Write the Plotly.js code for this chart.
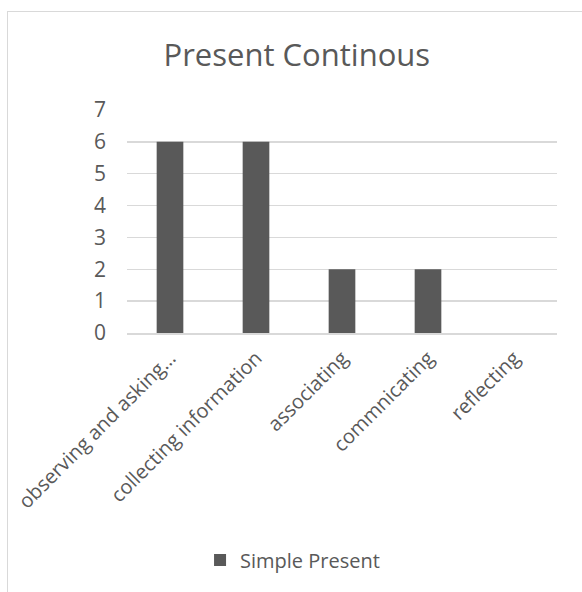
<!DOCTYPE html>
<html>
<head>
<meta charset="utf-8">
<script src="https://cdn.plot.ly/plotly-3.0.1.min.js"></script>
<style>
  html, body { margin: 0; padding: 0; background: #fff; }
  #wrap { position: relative; width: 582px; height: 592px; overflow: hidden; }
  #chart { position: absolute; left: 0; top: 0; width: 582px; height: 592px; }
  #frame { position: absolute; left: 7px; top: 11px; width: 640px; height: 640px;
           border-left: 1.5px solid #d9d9d9; border-top: 1.5px solid #d9d9d9; pointer-events: none; }
</style>
</head>
<body>
<div id="wrap">
  <div id="chart"></div>
  <div id="frame"></div>
</div>
<script>
const chartTitle = "Present Continous";
const categories = ["observing and asking…", "collecting information", "associating", "commnicating", "reflecting"];
const seriesName = "Simple Present";
const values = [6, 6, 2, 2, 0];
const yTicks = [0, 1, 2, 3, 4, 5, 6, 7];

const fontFam = "'Open Sans', 'Noto Sans', sans-serif";
const textColor = "#595959";

const trace = {
  type: "bar",
  x: categories,
  y: values,
  name: seriesName,
  marker: { color: "#595959" },
  showlegend: true,
  hoverinfo: "x+y"
};

const layout = {
  width: 582,
  height: 592,
  margin: { l: 127, r: 25, t: 110, b: 259 },
  paper_bgcolor: "#ffffff",
  plot_bgcolor: "#ffffff",
  font: { family: fontFam, color: textColor, size: 20 },
  title: {
    text: chartTitle,
    font: { family: fontFam, size: 31, color: textColor },
    xref: "container", x: 0.51, xanchor: "center",
    yref: "container", y: 0.907, yanchor: "middle"
  },
  bargap: 0.69,
  xaxis: {
    type: "category",
    tickangle: -45,
    showgrid: false,
    showline: true,
    linecolor: "#d9d9d9",
    linewidth: 1.5,
    ticks: "",
    tickfont: { family: fontFam, size: 20, color: textColor },
    ticklabelstandoff: 4,
    fixedrange: true
  },
  yaxis: {
    range: [0, 7],
    tickvals: yTicks,
    showgrid: true,
    gridcolor: "#d9d9d9",
    gridwidth: 1.5,
    zeroline: false,
    showline: false,
    ticks: "",
    tickfont: { family: fontFam, size: 21, color: textColor },
    ticklabelstandoff: 20,
    fixedrange: true
  },
  showlegend: true,
  legend: {
    orientation: "h",
    xref: "paper", x: 0.385, xanchor: "center",
    yref: "paper", y: -1.018, yanchor: "middle",
    font: { family: fontFam, size: 20, color: textColor },
    bgcolor: "rgba(0,0,0,0)"
  }
};

Plotly.newPlot("chart", [trace], layout, { displayModeBar: false, staticPlot: true });
</script>
</body>
</html>
